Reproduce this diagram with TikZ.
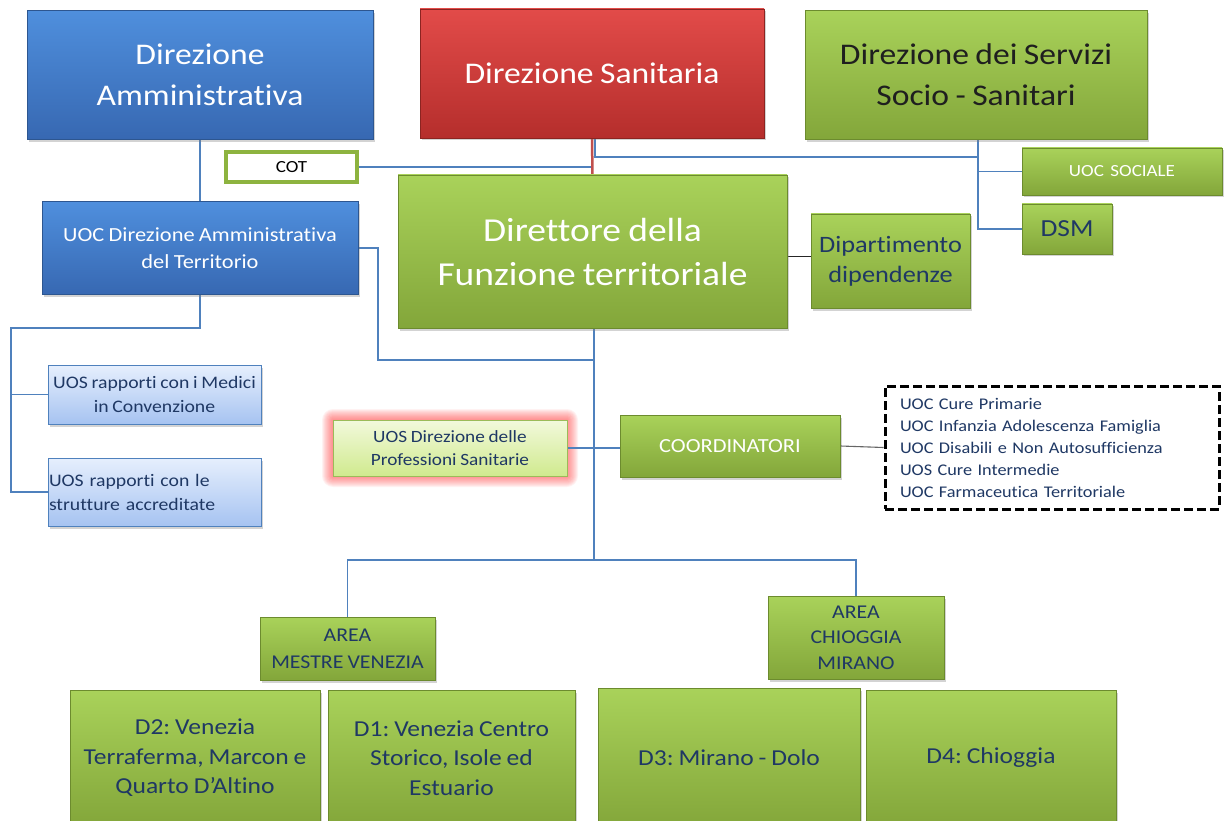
\documentclass[tikz,border=0pt]{standalone}
\usepackage{fontspec}
\setmainfont{Carlito}[FakeStretch=1.12, WordSpace=0.85, Ligatures=CommonOff]
\usetikzlibrary{shadows,backgrounds}
\definecolor{gTop}{HTML}{A9D25A}
\definecolor{gBot}{HTML}{83A63A}
\definecolor{gLine}{HTML}{6C8B2E}
\definecolor{bTop}{HTML}{4F8FDD}
\definecolor{bBot}{HTML}{3768B2}
\definecolor{bLine}{HTML}{2D5690}
\definecolor{rTop}{HTML}{E24B49}
\definecolor{rBot}{HTML}{B52E2C}
\definecolor{rLine}{HTML}{8C2421}
\definecolor{lbTop}{HTML}{E6EFFD}
\definecolor{lbBot}{HTML}{A6C3F1}
\definecolor{lbLine}{HTML}{4F81BD}
\definecolor{pTop}{HTML}{F2F9DC}
\definecolor{pBot}{HTML}{D0EA8E}
\definecolor{pLine}{HTML}{9BBB59}
\definecolor{cotLine}{HTML}{8DB33F}
\definecolor{navy}{HTML}{1F3864}
\definecolor{cBlue}{HTML}{4F81BD}
\definecolor{redLine}{HTML}{C0504D}
\frenchspacing
\begin{document}
\begin{tikzpicture}[x=1pt,y=-1pt,
  base/.style={rectangle, inner sep=0pt, align=center,
    drop shadow={opacity=0.35,shadow xshift=2pt,shadow yshift=-2.5pt}},
  gbox/.style={base, top color=gTop, bottom color=gBot, draw=gLine, line width=0.8pt},
  bbox/.style={base, top color=bTop, bottom color=bBot, draw=bLine, line width=0.8pt, text=white},
  rbox/.style={base, top color=rTop, bottom color=rBot, draw=rLine, line width=0.8pt, text=white},
  lbbox/.style={base, top color=lbTop, bottom color=lbBot, draw=lbLine, line width=0.8pt, text=navy},
  pbox/.style={rectangle, inner sep=0pt, align=center, top color=pTop, bottom color=pBot, draw=pLine, line width=0.8pt, text=navy},
  conn/.style={draw=cBlue, line width=1.1pt},
  fs/.style 2 args={font=\fontsize{#1}{#2}\selectfont},
]
\useasboundingbox (0,0) rectangle (1224,821);

% top row
\node[bbox, minimum width=346pt, minimum height=129pt, fs={30}{41}] (dA) at (200,75) {Direzione\\Amministrativa};
\node[rbox, minimum width=344pt, minimum height=129pt, fs={30}{41}] (dS) at (592,73.5) {Direzione Sanitaria};
\node[gbox, minimum width=342pt, minimum height=129pt, fs={30}{41}, text=black!88] (dSS) at (976,75) {Direzione dei Servizi\\Socio - Sanitari};

% second row
\node[rectangle, fill=white, draw=cotLine, line width=4pt, minimum width=131pt, minimum height=30pt, inner sep=0pt, fs={17}{19}] (cot) at (291.5,167) {COT};
\node[gbox, minimum width=389pt, minimum height=153pt, fs={33.5}{44}, text=white] (dF) at (592.5,251.5) {Direttore della\\Funzione territoriale};
\node[gbox, minimum width=200pt, minimum height=47pt, fs={17}{20}, text=white] (soc) at (1122,171.5) {UOC\, SOCIALE};
\node[gbox, minimum width=90pt, minimum height=50pt, fs={24.5}{30}, text=navy] (dsm) at (1067,229) {DSM};
\node[gbox, minimum width=159pt, minimum height=94pt, fs={23.5}{30}, text=navy] (dip) at (890.5,261) {Dipartimento\\dipendenze};
\node[bbox, minimum width=316pt, minimum height=93pt, fs={20}{27}] (uocT) at (200,248) {UOC Direzione Amministrativa\\del Territorio};

% left light blue boxes
\node[lbbox, minimum width=213pt, minimum height=59pt, fs={17.6}{24}] (med) at (154.5,394.5) {UOS rapporti con i Medici\\in Convenzione};
\node[lbbox, minimum width=213pt, minimum height=68pt, fs={17.6}{24}, text width=211pt, align=left] (str) at (154.5,492) {UOS rapporti con le\\strutture accreditate};

% professioni sanitarie with glow
\begin{scope}[on background layer]
  \foreach \i in {1,...,11}{
    \fill[red!75!white, opacity=0.07, rounded corners=\i pt] ([shift={(-\i pt,-\i pt)}]333,476) rectangle ([shift={(\i pt,\i pt)}]567,420);
  }
\end{scope}
\node[pbox, minimum width=234pt, minimum height=56pt, fs={17.2}{23}] (prof) at (450,448) {UOS Direzione delle\\Professioni Sanitarie};

\node[gbox, minimum width=220pt, minimum height=62pt, fs={20}{22}, text=white] (coord) at (730,446) {COORDINATORI};
\node[rectangle, draw=black, line width=3pt, dash pattern=on 9pt off 4pt, fill=white,
      minimum width=334pt, minimum height=123pt, inner sep=0pt, text width=304pt, align=left,
      text=navy, fs={16.3}{22}] (dash) at (1052,447.5)
  {UOC Cure Primarie\\UOC Infanzia Adolescenza Famiglia\\UOC Disabili e Non Autosufficienza\\UOS Cure Intermedie\\UOC Farmaceutica Territoriale};

% areas
\node[gbox, minimum width=175pt, minimum height=63pt, fs={19.5}{27}, text=navy] (aM) at (347.5,648.5) {AREA\\MESTRE VENEZIA};
\node[gbox, minimum width=176pt, minimum height=83pt, fs={19.5}{25.5}, text=navy] (aC) at (856,637.5) {AREA\\CHIOGGIA\\MIRANO};

% districts
\node[gbox, minimum width=250pt, minimum height=136pt, fs={22.8}{29.5}, text=navy] (d2) at (195,758) {D2: Venezia\\Terraferma, Marcon e\\Quarto D’Altino};
\node[gbox, minimum width=247pt, minimum height=136pt, fs={22.8}{29.5}, text=navy] (d1) at (451.5,758) {D1: Venezia Centro\\Storico, Isole ed\\Estuario};
\node[gbox, minimum width=262pt, minimum height=140pt, fs={22.8}{29.5}, text=navy] (d3) at (729,758) {D3: Mirano - Dolo};
\node[gbox, minimum width=250pt, minimum height=136pt, fs={22.8}{29.5}, text=navy] (d4) at (991,758) {D4: Chioggia};

% connectors
\begin{scope}[on background layer]
  \coordinate (L1) at (11,328);
  \coordinate (J1) at (595,157);
  \coordinate (J2) at (978,157);
  \coordinate (M1) at (594,360);
  \coordinate (M2) at (594,560);
  \coordinate (R1) at (378,248);
  \draw[conn] (dA.south) -- (uocT.north);
  \draw[conn] (cot.east) -- (cot.east -| dS.south);
  \draw[conn] ([xshift=3pt]dS.south) -- (J1) -- (J2);
  \draw[conn] (dSS.south -| J2) -- (J2) |- (soc.west);
  \draw[conn] (J2) |- (dsm.west);
  \draw[redLine, line width=2.5pt] (dS.south) -- (dF.north);
  \draw[black!85, line width=1pt] ([yshift=4pt]dip.west) -- ([yshift=4pt]dip.west -| dF.east);
  \draw[conn] (uocT.south) |- (L1) |- (med.west);
  \draw[conn] (L1) |- (str.west);
  \draw[conn] (uocT.east |- R1) -- (R1) |- (M1);
  \draw[conn] (dF.south -| M1) -- (M2);
  \draw[conn] (prof.east) -- (prof.east -| coord.west);
  \draw[black!60, line width=1.1pt] (coord.east) -- (dash.west);
  \draw[conn] (aM.north) |- (M2) -| (aC.north);
\end{scope}
\end{tikzpicture}
\end{document}
